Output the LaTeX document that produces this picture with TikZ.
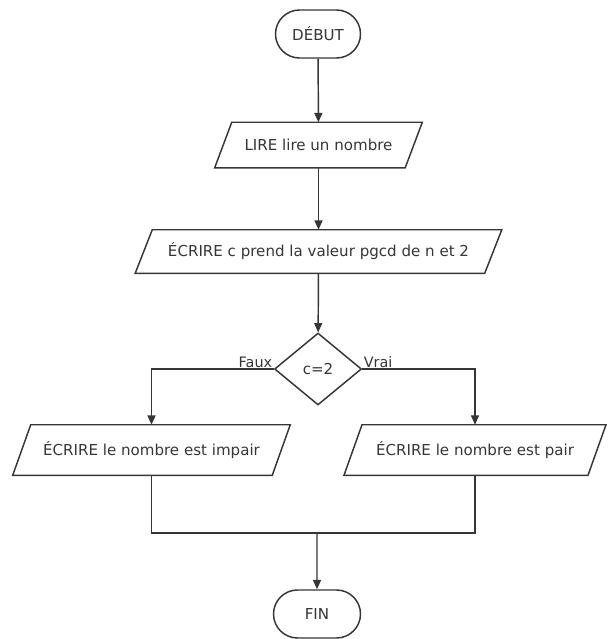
\documentclass[tikz,border=0pt]{standalone}
\usepackage{fontspec}
\setmainfont{DejaVu Sans}
\usetikzlibrary{shapes.geometric,shapes.misc,arrows.meta}
\definecolor{ink}{HTML}{363636}
\begin{document}
\begin{tikzpicture}[x=0.75pt,y=-0.75pt,
  every node/.style={font=\fontsize{11.3}{13}\selectfont, text=ink},
  base/.style={draw=ink, line width=1.1pt, inner sep=0pt, fill=white},
  terminal/.style={base, rounded rectangle},
  io/.style={rectangle, inner sep=0pt},
  outline/.style={draw=ink, line width=1.1pt, line join=miter},
  test/.style={base, diamond},
  link/.style={draw=ink, line width=1.1pt},
  flow/.style={link, -{Triangle[length=7pt,width=6pt]}},
  lbl/.style={font=\fontsize{10.8}{12}\selectfont, inner sep=1pt}]
  \useasboundingbox (0,0) rectangle (608,639);

  % terminals, input/output blocks and the test
  \node[terminal, minimum width=63.75pt, minimum height=36pt] (debut) at (318,34) {DÉBUT};
  \node[io, minimum width=142.5pt, minimum height=33.75pt] (lire) at (318.5,145) {LIRE lire un nombre};
  \node[io, minimum width=261.75pt, minimum height=32.25pt] (ecrire) at (318.5,251.5) {ÉCRIRE c prend la valeur pgcd de n et 2};
  \node[test, minimum width=65.25pt, minimum height=54pt] (cond) at (318,369) {c=2};
  \node[io, minimum width=194.25pt, minimum height=37.5pt] (impair) at (151.5,450) {ÉCRIRE le nombre est impair};
  \node[io, minimum width=182.6pt, minimum height=37.5pt] (pair) at (475,450) {ÉCRIRE le nombre est pair};
  \node[terminal, minimum width=65.25pt, minimum height=36pt] (fin) at (317,614) {FIN};
  \coordinate (merge) at (317,533);

  % parallelogram outlines of the input/output blocks (half slant per block)
  \foreach \blk/\hs in {lire/6.4pt, ecrire/6.4pt, impair/6.75pt, pair/6.75pt}
    \draw[outline] ([xshift=-\hs]\blk.south west) -- ([xshift=\hs]\blk.north west)
      -- ([xshift=\hs]\blk.north east) -- ([xshift=-\hs]\blk.south east) -- cycle;

  % connectors
  \draw[flow] (debut) -- (lire);
  \draw[flow] (lire) -- (ecrire);
  \draw[flow] (ecrire) -- (cond);
  \draw[flow] (cond.west) -- (impair.north |- cond.west) -- (impair.north);
  \draw[flow] (cond.east) -- (pair.north |- cond.east) -- (pair.north);
  \node[lbl, anchor=south east] (faux) at (cond.west) {Faux};
  \node[lbl, anchor=south west] (vrai) at (cond.east) {Vrai};

  \draw[link] (impair.south) -- (impair.south |- merge) -- (pair.south |- merge) -- (pair.south);
  \draw[flow] (merge) -- (fin);
\end{tikzpicture}
\end{document}
